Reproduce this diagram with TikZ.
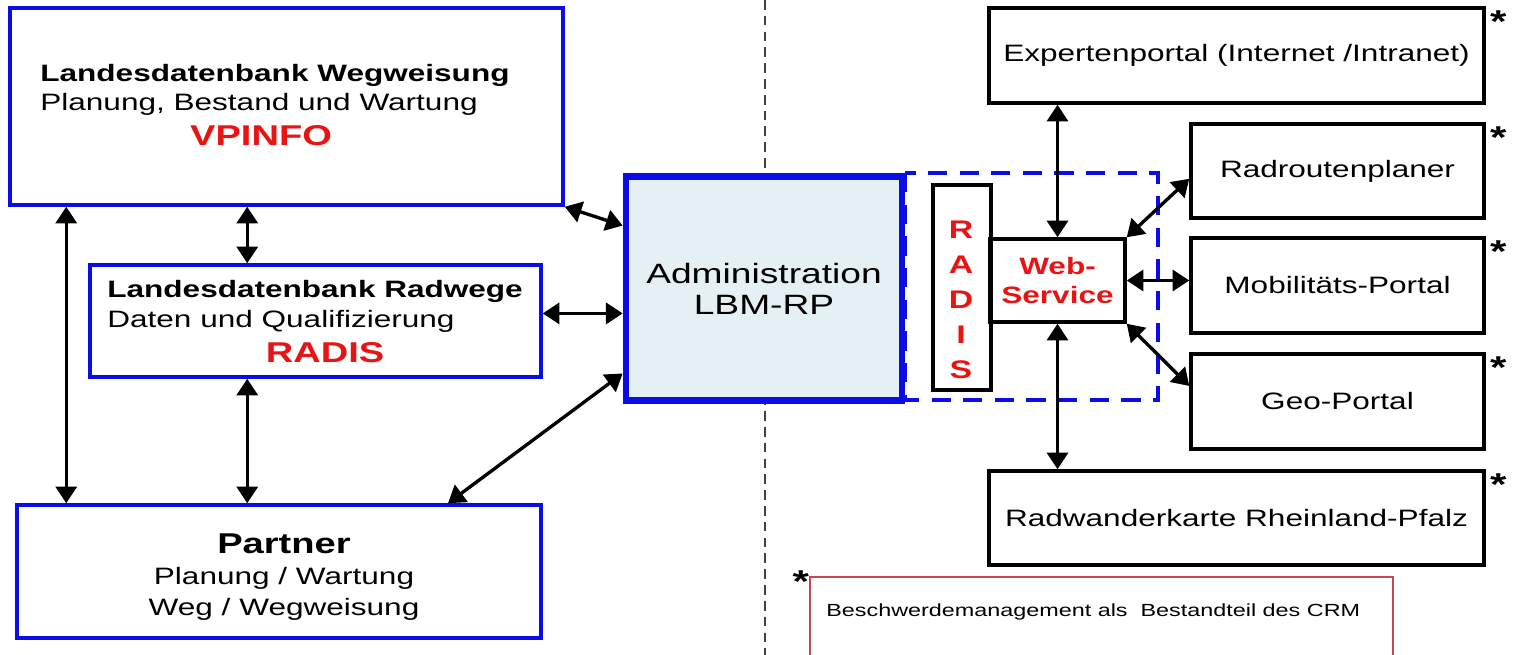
\documentclass[tikz,border=0pt]{standalone}
\usepackage{fontspec}
\setmainfont{Liberation Sans}[FakeStretch=1.33]
\usetikzlibrary{arrows.meta,calc}

\newlength\pxu
\setlength\pxu{0.02cm}
\definecolor{boxblue}{RGB}{12,12,232}
\definecolor{admfill}{RGB}{228,240,243}
\definecolor{txtred}{RGB}{232,20,20}
\definecolor{crmred}{RGB}{200,70,80}

\begin{document}
\begin{tikzpicture}[x=0.02cm, y=-0.02cm,
	bluebox/.style={draw=boxblue, line width=2pt, inner sep=0pt},
	blackbox/.style={draw=black, line width=2pt, inner sep=0pt, font=\fontsize{13.5}{16}\selectfont},
	link/.style={{Triangle[length=9.5pt,width=12pt]}-{Triangle[length=9.5pt,width=12pt]}, line width=1.9pt},
	redname/.style={text=txtred, inner sep=0pt, font=\bfseries\fontsize{16.3}{19}\selectfont},
	subtext/.style={align=left, inner sep=0pt, font=\fontsize{13.5}{16.5}\selectfont},
	starmark/.style={inner sep=0pt, font=\bfseries\fontsize{18}{18}\selectfont}]
	
	\useasboundingbox (0,0) rectangle (1517,655);
	\clip (0,0) rectangle (1517,655);
	
	% separator
	\draw[line width=1.1pt, dash pattern=on 5.5pt off 3.5pt, black!75] (765,0) -- (765,655);
	
	% left side
	\node[bluebox, minimum width={553*\pxu}, minimum height={197*\pxu}] (vpinfo) at (286.5,106.5) {};
	\node[subtext, anchor=west] (vpinfoText) at (40,90) {\textbf{Landesdatenbank Wegweisung}\\Planung, Bestand und Wartung};
	\node[redname] (vpinfoName) at (261,136) {VPINFO};
	
	\node[bluebox, minimum width={451*\pxu}, minimum height={112*\pxu}] (radisdb) at (315.5,321) {};
	\node[subtext, anchor=west, font=\fontsize{13.5}{17}\selectfont] (radisdbText) at (107,306) {\textbf{Landesdatenbank Radwege}\\Daten und Qualifizierung};
	\node[redname] (radisdbName) at (325,353) {RADIS};
	
	\node[bluebox, minimum width={524*\pxu}, minimum height={133*\pxu}] (partner) at (279,571.5) {};
	\node[align=center, inner sep=0pt, font=\fontsize{13.5}{17.5}\selectfont] (partnerText) at (284,577)
		{{\bfseries\fontsize{16.3}{17.5}\selectfont Partner}\\Planung / Wartung\\Weg / Wegweisung};
	
	% centre
	\node[draw=boxblue, line width=3.8pt, fill=admfill, minimum width={276*\pxu}, minimum height={224*\pxu}, align=center, font=\fontsize{15.9}{17.6}\selectfont] (admin) at (764,288.5) {Administration\\LBM-RP};
	\draw[boxblue, line width=2pt, dash pattern=on 11pt off 7pt] (admin.north east) rectangle (1158,400); % RADIS web frame
	
	\node[blackbox, minimum width={58*\pxu}, minimum height={205*\pxu}] (radisV) at (962,287.5) {};
	\node[align=center, inner sep=0pt, text=txtred, font=\bfseries\fontsize{14.5}{20}\selectfont] (radisVText) at (961,300) {R\\A\\D\\I\\S};
	\node[blackbox, minimum width={135*\pxu}, minimum height={83*\pxu}, align=center, text=txtred, font=\bfseries\fontsize{13.5}{17}\selectfont] (web) at (1057.5,280.5) {Web-\\Service};
	
	% right side
	\node[blackbox, minimum width={495*\pxu}, minimum height={95*\pxu}] (expert) at (1236.5,55.5) {Expertenportal (Internet /Intranet)};
	\node[blackbox, minimum width={293*\pxu}, minimum height={94*\pxu}] (radrouten) at (1337.5,171) {Radroutenplaner};
	\node[blackbox, minimum width={293*\pxu}, minimum height={95*\pxu}] (mobil) at (1337.5,285.5) {Mobilitäts-Portal};
	\node[blackbox, minimum width={293*\pxu}, minimum height={95*\pxu}] (geo) at (1337.5,401.5) {Geo-Portal};
	\node[blackbox, minimum width={495*\pxu}, minimum height={94*\pxu}] (radwander) at (1236.5,518) {Radwanderkarte Rheinland-Pfalz};
	
	\node[draw=crmred, line width=0.7pt, minimum width={583*\pxu}, minimum height={123*\pxu}] (crm) at (1101.5,638.5) {};
	\node[inner sep=0pt, anchor=west, font=\fontsize{10}{12}\selectfont] (crmText) at (826,612) {Beschwerdemanagement als~ Bestandteil des CRM};
	
	% stars
	\foreach \b in {expert,radrouten,mobil,geo,radwander}
		\node[starmark, anchor=north west, xshift=4*\pxu, yshift=-4*\pxu] (star-\b) at (\b.north east) {*};
	\node[starmark, anchor=north east, yshift=6*\pxu] (star-crm) at (crm.north west) {*};
	
	% links left
	\draw[link] ($(vpinfo.south west)+(58,0)$) -- ($(partner.north west)+(51,0)$);
	\draw[link] ($(vpinfo.south west)+(239,0)$) -- ($(radisdb.north west)+(159,0)$);
	\draw[link] ($(radisdb.south west)+(159,0)$) -- ($(partner.north west)+(232,0)$);
	\draw[link] (vpinfo.south east) -- (admin.156);
	\draw[link] (admin.190 -| radisdb.east) -- (admin.190);
	\draw[link] (partner.22) -- (admin.211);
	
	% links right
	\draw[link] (web.north) -- (web.north |- expert.south);
	\draw[link] (web.north east) -- (radrouten.183);
	\draw[link] (web.east) -- (web.east -| mobil.west);
	\draw[link] (web.south east) -- (geo.174);
	\draw[link] (web.south) -- (web.south |- radwander.north);
	
\end{tikzpicture}
\end{document}
